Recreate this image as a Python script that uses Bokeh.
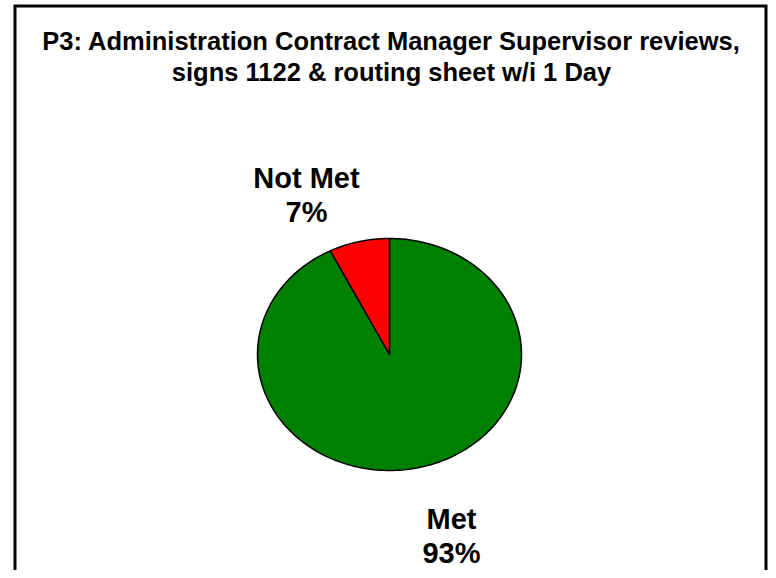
import numpy as np
from bokeh.plotting import figure
from bokeh.models import Range1d, ColumnDataSource
from bokeh.core.properties import value
from bokeh.embed import file_html
from bokeh.resources import INLINE

# ---- data ----
categories = ["Met", "Not Met"]
percents = [92.6, 7.4]
colors = ["#008000", "#FF0000"]
title_lines = ["P3: Administration Contract Manager Supervisor reviews,",
               "signs 1122 & routing sheet w/i 1 Day"]

# ---- layout (pixel coordinates of the picture) ----
W, H = 768, 570
p = figure(width=W, height=H, output_backend="svg", toolbar_location=None,
           x_range=Range1d(0, W), y_range=Range1d(H, 0),
           min_border=0, outline_line_color=None)
p.axis.visible = False
p.grid.visible = False
p.background_fill_color = "white"
p.border_fill_color = "white"

# frame border (left, top, right; bottom runs off the page)
p.line([14.5, 14.5, 765.5, 765.5], [600, 5.5, 5.5, 600],
       line_color="black", line_width=3, line_join="miter")

# pie drawn as an ellipse
cx, cy, rx, ry = 389, 354, 132, 116
fr = np.array(percents) / sum(percents)
a0 = np.pi / 2
slices = {}
for i in [1, 0]:  # Not Met counterclockwise from 12 o'clock, then Met
    a1 = a0 + fr[i] * 2 * np.pi
    t = np.linspace(a0, a1, 240)
    px = np.concatenate([[cx], cx + rx * np.cos(t), [cx]])
    py = np.concatenate([[cy], cy - ry * np.sin(t), [cy]])
    slices[i] = (px.tolist(), py.tolist())
    a0 = a1
src = ColumnDataSource(dict(xs=[slices[i][0] for i in range(2)],
                            ys=[slices[i][1] for i in range(2)],
                            color=colors))
p.patches("xs", "ys", source=src, fill_color="color",
          line_color="black", line_width=1.5)

font = value("Liberation Sans")
# title
p.text(x=[391, 391], y=[40, 71], text=title_lines, text_font=font,
       text_font_style="bold", text_font_size="25.5px",
       text_align="center", text_baseline="middle", text_color="black")

# labels
lab_pos = {0: (451, 518), 1: (306, 177)}
for i in range(2):
    lx, ly = lab_pos[i]
    p.text(x=[lx, lx], y=[ly, ly + 34],
           text=[categories[i], f"{round(percents[i])}%"],
           text_font=font, text_font_style="bold", text_font_size="29px",
           text_align="center", text_baseline="middle", text_color="black")

open("out.html", "w").write(file_html(p, INLINE))
